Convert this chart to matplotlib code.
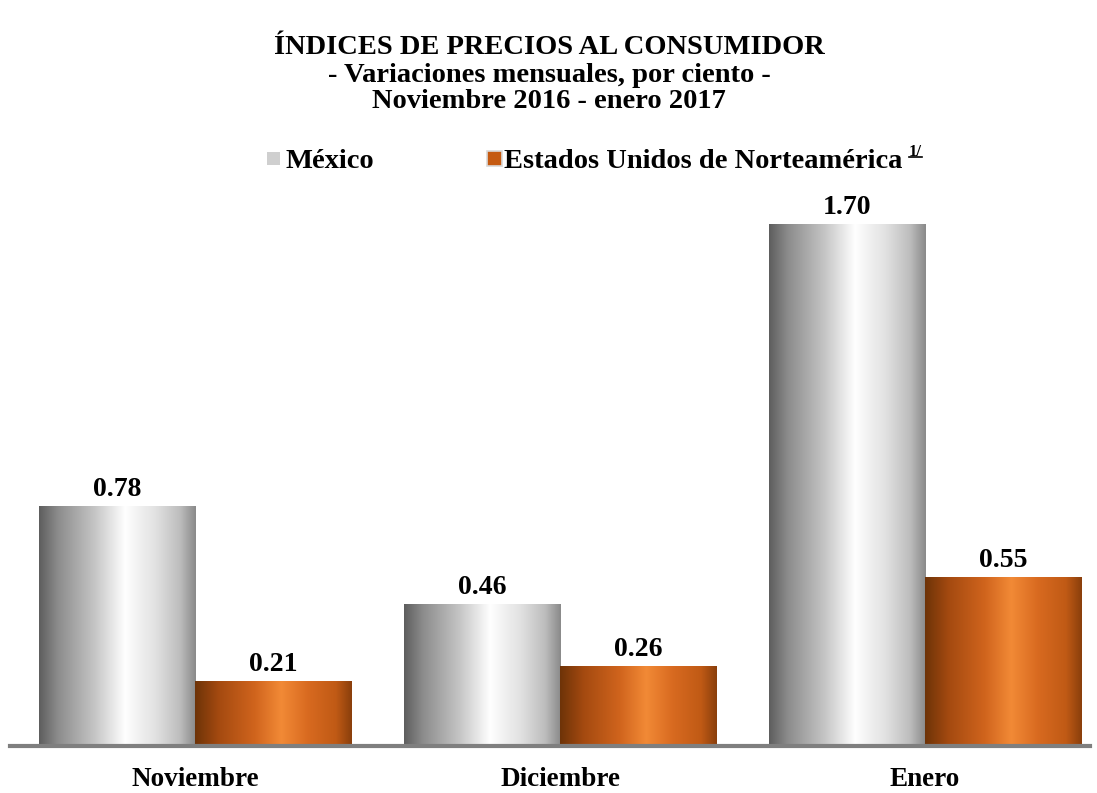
import numpy as np
import matplotlib
matplotlib.use("Agg")
import matplotlib.pyplot as plt
from matplotlib.colors import LinearSegmentedColormap
from matplotlib.patches import Rectangle
from matplotlib.lines import Line2D

categories = ["Noviembre", "Diciembre", "Enero"]
mexico = [0.78, 0.46, 1.70]
eua = [0.21, 0.26, 0.55]
series_names = ["México", "Estados Unidos de Norteamérica"]
title_lines = ["ÍNDICES DE PRECIOS AL CONSUMIDOR",
               "- Variaciones mensuales, por ciento -",
               "Noviembre 2016 - enero 2017"]

plt.rcParams['font.family'] = ['Liberation Serif', 'DejaVu Serif']

W, H = 1097, 793
fig = plt.figure(figsize=(W / 100, H / 100), dpi=100)
ax = fig.add_axes([10 / W, (H - 746) / H, 1080 / W, (746 - 200) / H])
ax.set_xlim(-0.507, 2.452)
ax.set_ylim(0, 1.78)
ax.axis('off')

gray_cmap = LinearSegmentedColormap.from_list("g", [
    (0.0, "#5e5e5e"), (0.12, "#8c8c8c"), (0.35, "#c4c4c4"),
    (0.55, "#ffffff"), (0.75, "#e0e0e0"), (0.9, "#bdbdbd"), (1.0, "#8a8a8a")])
orange_cmap = LinearSegmentedColormap.from_list("o", [
    (0.0, "#6e3308"), (0.15, "#a44a10"), (0.38, "#d0641d"),
    (0.55, "#f28a36"), (0.72, "#d86a20"), (0.9, "#c05a15"), (1.0, "#8a3f0c")])

grad = np.linspace(0, 1, 256).reshape(1, -1)
bw = 0.4288
x = np.arange(len(categories))

def grad_bar(x0, h, cmap):
    ax.bar(x0, h, width=bw, align='edge', color='none', edgecolor='none')
    ax.imshow(grad, cmap=cmap, extent=[x0, x0 + bw, 0, h], aspect='auto',
              interpolation='bicubic', zorder=2)

for i in range(len(categories)):
    grad_bar(x[i] - bw, mexico[i], gray_cmap)
    grad_bar(x[i], eua[i], orange_cmap)
    ax.text(x[i] - bw / 2, mexico[i] + 0.035, f"{mexico[i]:.2f}", ha='center', va='baseline',
            fontsize=20, fontweight='bold')
    ax.text(x[i] + bw / 2, eua[i] + 0.035, f"{eua[i]:.2f}", ha='center', va='baseline',
            fontsize=20, fontweight='bold')
    ax.text(x[i], -0.13, categories[i], ha='center', va='baseline', fontsize=19.5,
            fontweight='bold')

ax.set_xlim(-0.507, 2.452)
ax.set_ylim(0, 1.78)
ax.axhline(0, color="#7f7f7f", lw=3, zorder=3, clip_on=False)

def px(xp, yp):
    return xp / W, 1 - yp / H

# title
for k, line in enumerate(title_lines):
    fig.text(*px(549, 45 + 27 * k), line, ha='center', va='center_baseline',
             fontsize=20.5, fontweight='bold')

# legend
fig.patches.append(Rectangle(px(267, 165), 13 / W, 13 / H, transform=fig.transFigure,
                             facecolor="#cfcfcf", edgecolor="none"))
fig.text(*px(285, 158), series_names[0], ha='left', va='center_baseline', fontsize=20.5,
         fontweight='bold')
fig.patches.append(Rectangle(px(487, 166), 15 / W, 15 / H, transform=fig.transFigure,
                             facecolor="#c55a11", edgecolor="#d9d9d9", lw=1.2))
fig.text(*px(504, 158), series_names[1], ha='left', va='center_baseline', fontsize=20.5,
         fontweight='bold')
fig.text(*px(909, 150), "1/", ha='left', va='center_baseline', fontsize=12, fontweight='bold')
fig.add_artist(Line2D([909 / W, 922 / W], [1 - 157 / H, 1 - 157 / H], color='black', lw=1.2))

fig.savefig("out.png", dpi=100)
